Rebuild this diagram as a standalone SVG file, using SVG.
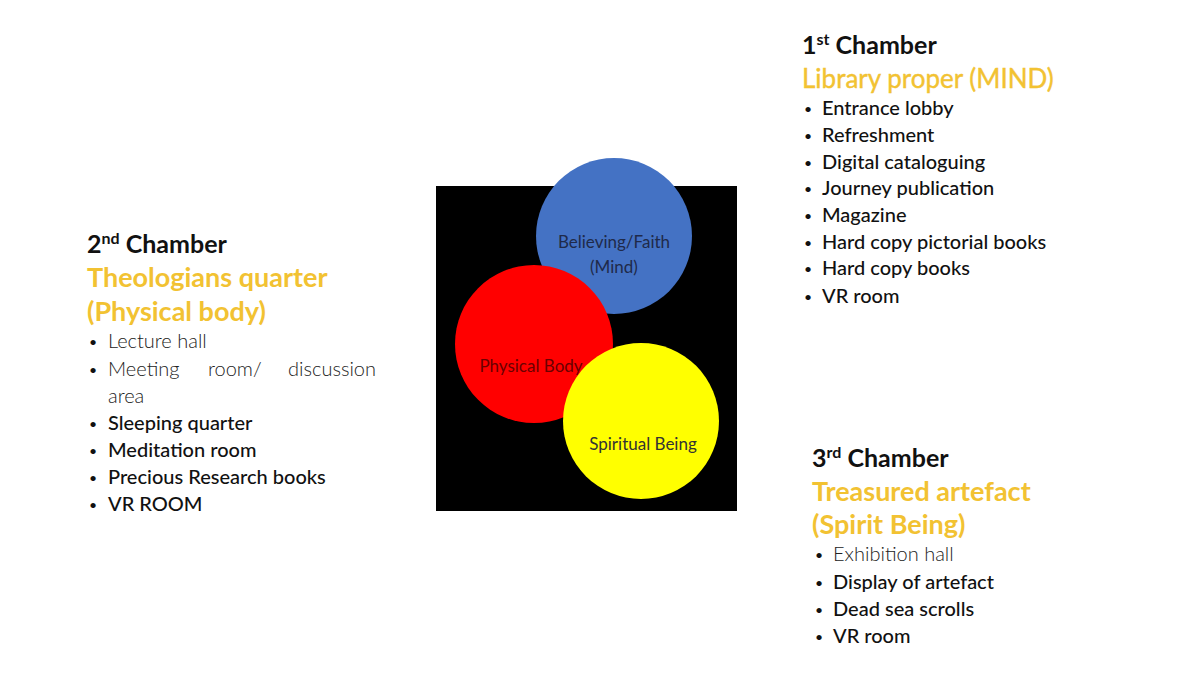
<svg xmlns="http://www.w3.org/2000/svg" width="1200" height="675" viewBox="0 0 1200 675">
<style>
text{font-family:Lato,"Open Sans","Liberation Sans",sans-serif}
.h{font-size:25px;font-weight:700;fill:#111}
.sup{font-size:16px}
.g{font-size:27px;font-weight:700;fill:#f2c232}
.gr{font-size:26px;font-weight:400;fill:#f2c232;stroke:#f2c232;stroke-width:0.4}
.b{font-size:20px;fill:#111;font-weight:500}
.l{font-size:20px;fill:#222;font-weight:300}
.d{font-size:14px;fill:#111}
.c{font-size:17px;text-anchor:middle}
</style>
<rect width="1200" height="675" fill="#fff"/>
<g id="venn">
<rect x="436" y="186" width="301" height="325" fill="#000"/>
<circle cx="614" cy="236" r="78" fill="#4472c4"/>
<circle cx="534" cy="344" r="79" fill="#ff0000"/>
<circle cx="641" cy="421" r="78" fill="#ffff00"/>
<text class="c" x="614" y="248" fill="#1f2a4a">Believing/Faith</text>
<text class="c" x="614" y="273" fill="#1f2a4a">(Mind)</text>
<text class="c" x="531" y="372" fill="#6a0000" font-size="15">Physical Body</text>
<text class="c" x="643" y="450" fill="#333" font-size="19">Spiritual Being</text>
</g>
<g id="chamber1">
<text class="h" x="802" y="54">1<tspan class="sup" dy="-9">st</tspan><tspan dy="9"> Chamber</tspan></text>
<text class="gr" x="802" y="88">Library proper (MIND)</text>
<text class="d" x="804" y="114">•</text><text class="b" x="822" y="115">Entrance lobby</text>
<text class="d" x="804" y="141">•</text><text class="b" x="822" y="142">Refreshment</text>
<text class="d" x="804" y="168">•</text><text class="b" x="822" y="169">Digital cataloguing</text>
<text class="d" x="804" y="194">•</text><text class="b" x="822" y="195">Journey publication</text>
<text class="d" x="804" y="221">•</text><text class="b" x="822" y="222">Magazine</text>
<text class="d" x="804" y="248">•</text><text class="b" x="822" y="249">Hard copy pictorial books</text>
<text class="d" x="804" y="274">•</text><text class="b" x="822" y="275">Hard copy books</text>
<text class="d" x="804" y="302">•</text><text class="b" x="822" y="303">VR room</text>
</g>
<g id="chamber2">
<text class="h" x="87" y="253">2<tspan class="sup" dy="-9">nd</tspan><tspan dy="9"> Chamber</tspan></text>
<text class="g" x="87" y="287">Theologians quarter</text>
<text class="g" x="87" y="321">(Physical body)</text>
<text class="d" x="89" y="347">•</text><text class="l" x="108" y="348">Lecture hall</text>
<text class="d" x="89" y="375">•</text><text class="l" x="108" y="376">Meeting</text><text class="l" x="208" y="376">room/</text><text class="l" x="376" y="376" text-anchor="end">discussion</text>
<text class="l" x="108" y="403">area</text>
<text class="d" x="89" y="429">•</text><text class="b" x="108" y="430">Sleeping quarter</text>
<text class="d" x="89" y="456">•</text><text class="b" x="108" y="457">Meditation room</text>
<text class="d" x="89" y="483">•</text><text class="b" x="108" y="484">Precious Research books</text>
<text class="d" x="89" y="510">•</text><text class="b" x="108" y="511">VR ROOM</text>
</g>
<g id="chamber3">
<text class="h" x="812" y="467">3<tspan class="sup" dy="-9">rd</tspan><tspan dy="9"> Chamber</tspan></text>
<text class="g" x="812" y="501">Treasured artefact</text>
<text class="g" x="812" y="534">(Spirit Being)</text>
<text class="d" x="815" y="560">•</text><text class="l" x="833" y="561">Exhibition hall</text>
<text class="d" x="815" y="588">•</text><text class="b" x="833" y="589">Display of artefact</text>
<text class="d" x="815" y="615">•</text><text class="b" x="833" y="616">Dead sea scrolls</text>
<text class="d" x="815" y="642">•</text><text class="b" x="833" y="643">VR room</text>
</g>
</svg>
